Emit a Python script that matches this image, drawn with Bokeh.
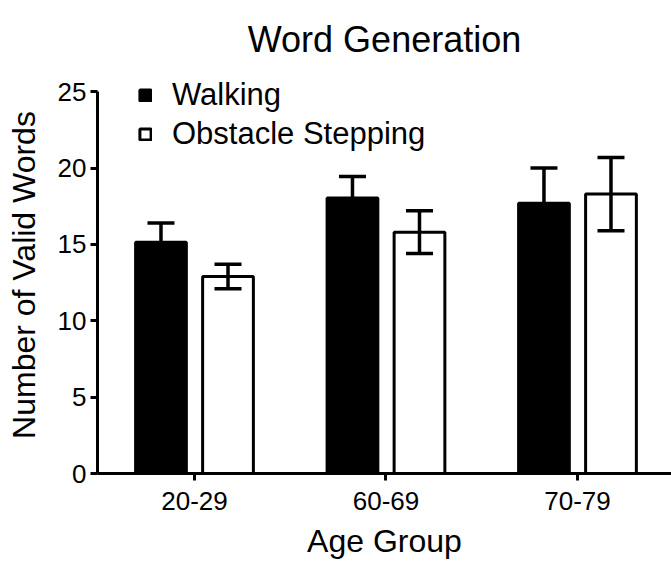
from bokeh.plotting import figure
from bokeh.models import (ColumnDataSource, Whisker, Legend, LegendItem,
                          FixedTicker, Range1d, TeeHead)
from bokeh.transform import dodge
from bokeh.embed import file_html
from bokeh.resources import INLINE

# ---- data ----
groups = ["20-29", "60-69", "70-79"]
walking = [15.15, 18.05, 17.7]
walking_err = [1.25, 1.4, 2.3]
obstacle = [12.9, 15.8, 18.3]
obstacle_err = [0.8, 1.4, 2.4]
y_ticks = [0, 5, 10, 15, 20, 25]

FONT = "Liberation Sans"
pos = list(range(len(groups)))
src = ColumnDataSource(dict(
    x=pos,
    walk=walking,
    walk_hi=[v + e for v, e in zip(walking, walking_err)],
    obs=obstacle,
    obs_lo=[v - e for v, e in zip(obstacle, obstacle_err)],
    obs_hi=[v + e for v, e in zip(obstacle, obstacle_err)],
))

p = figure(width=671, height=561, output_backend="svg", toolbar_location=None,
           x_range=Range1d(-0.5065, 2.491), y_range=Range1d(0, 26.0),
           min_border_left=97, min_border_right=0, min_border_top=74,
           min_border_bottom=87)
p.outline_line_color = None
p.grid.visible = False
p.background_fill_color = "white"

p.title.text = "Word Generation"
p.title.text_font = FONT
p.title.text_font_size = "36px"
p.title.text_font_style = "normal"
p.title.text_color = "black"
p.title.align = "center"
p.title.standoff = 33

BW = 0.265
OFF = 0.175
r_walk = p.vbar(x=dodge("x", -OFF), top="walk", bottom=0, width=BW, source=src,
                fill_color="black", line_color="black", line_width=3)
r_obs = p.vbar(x=dodge("x", OFF), top="obs", bottom=0, width=BW, source=src,
               fill_color="white", line_color="black", line_width=3)

w1 = Whisker(base=dodge("x", -OFF), lower="walk", upper="walk_hi", source=src,
             line_width=3.5, line_color="black", level="overlay",
             upper_head=TeeHead(size=27, line_width=3.5, line_color="black"),
             lower_head=None)
w2 = Whisker(base=dodge("x", OFF), lower="obs_lo", upper="obs_hi", source=src,
             line_width=3.5, line_color="black", level="overlay",
             upper_head=TeeHead(size=27, line_width=3.5, line_color="black"),
             lower_head=TeeHead(size=27, line_width=3.5, line_color="black"))
p.add_layout(w1)
p.add_layout(w2)

# axes
for ax in (p.xaxis[0], p.yaxis[0]):
    ax.axis_line_width = 3
    ax.axis_line_color = "black"
    ax.major_tick_line_width = 3
    ax.major_tick_line_color = "black"
    ax.major_tick_in = 0
    ax.major_tick_out = 7
    ax.minor_tick_line_color = None
    ax.major_label_text_font = FONT
    ax.major_label_text_font_size = "26px"
    ax.major_label_text_color = "black"
    ax.axis_label_text_font = FONT
    ax.axis_label_text_font_size = "32px"
    ax.axis_label_text_font_style = "normal"
    ax.axis_label_text_color = "black"

p.xaxis.ticker = FixedTicker(ticks=pos)
p.xaxis.major_label_overrides = {i: g for i, g in zip(pos, groups)}
p.xaxis.axis_label = "Age Group"
p.xaxis.major_label_standoff = 11
p.xaxis.axis_label_standoff = 10

p.yaxis.ticker = FixedTicker(ticks=y_ticks)
p.yaxis.bounds = (0, 25)
p.yaxis.axis_label = "Number of Valid Words"
p.yaxis.major_label_standoff = 4
p.yaxis.axis_label_standoff = 13

legend = Legend(items=[LegendItem(label="Walking", renderers=[r_walk]),
                       LegendItem(label="Obstacle Stepping", renderers=[r_obs])],
                location=(41, 321), orientation="vertical",
                background_fill_alpha=0, border_line_color=None,
                padding=0, margin=0, spacing=3,
                glyph_width=14, glyph_height=14, label_height=36,
                label_standoff=20,
                label_text_font=FONT, label_text_font_size="31px",
                label_text_color="black")
p.add_layout(legend)

open("out.html", "w").write(file_html(p, INLINE))
